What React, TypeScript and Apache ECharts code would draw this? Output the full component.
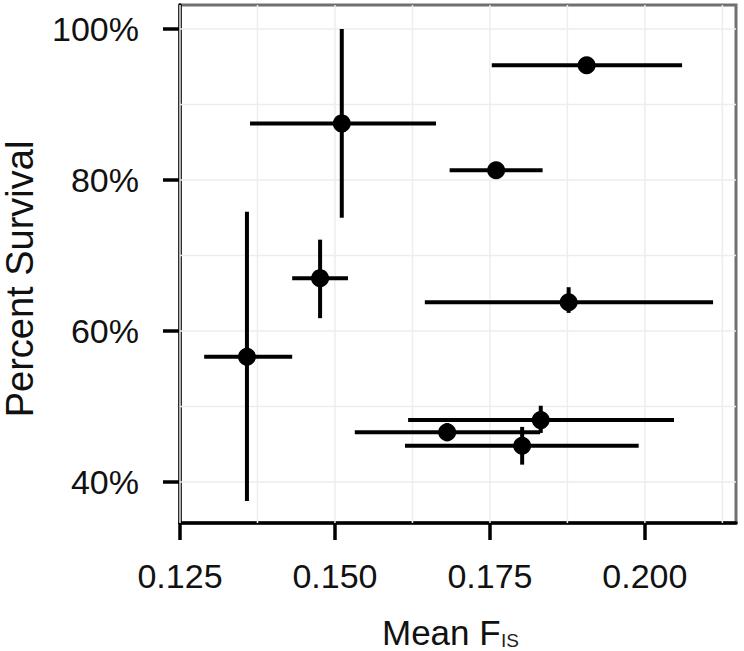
import React, { useEffect, useRef } from "react";
import * as echarts from "echarts";

// Mean F_IS (x) with horizontal error range
const meanFis = [0.1906, 0.1511, 0.176, 0.1476, 0.1877, 0.1358, 0.1832, 0.1681, 0.1802];
const fisLow = [0.1753, 0.1363, 0.1685, 0.1431, 0.1645, 0.1289, 0.1618, 0.1532, 0.1613];
const fisHigh = [0.206, 0.1663, 0.1835, 0.1521, 0.211, 0.1431, 0.2047, 0.1831, 0.199];
// Percent survival (y) with vertical error range
const survival = [95.2, 87.5, 81.3, 67.0, 63.8, 56.6, 48.2, 46.6, 44.8];
const survLow = [95.2, 75.0, 81.3, 61.7, 62.4, 37.5, 46.5, 45.4, 42.3];
const survHigh = [95.2, 100, 81.3, 72.1, 65.8, 75.8, 50.1, 47.8, 47.3];

// ticks and gridlines
const xTicks = [0.125, 0.15, 0.175, 0.2];
const yTicks = [40, 60, 80, 100];
const xGrid = [0.125, 0.1375, 0.15, 0.1625, 0.175, 0.1875, 0.2, 0.2125];
const yGrid = [40, 50, 60, 70, 80, 90, 100];

const X_MIN = 0.125;
const X_MAX = 0.2147;
const Y_MIN = 34.57;
const Y_MAX = 103.18;

export default function App() {
  const ref = useRef<HTMLDivElement>(null);
  useEffect(() => {
    if (!ref.current) return;
    const chart = echarts.init(ref.current, null, { renderer: "svg" });
    const fontFamily = "Liberation Sans, Arial, Helvetica, sans-serif";
    const errData = meanFis.map((x, i) => [x, survival[i], fisLow[i], fisHigh[i], survLow[i], survHigh[i]]);
    const lineStyle = { stroke: "#000", lineWidth: 4 };
    chart.setOption({
      animation: false,
      backgroundColor: "#fff",
      grid: {
        left: 180,
        right: 8,
        top: 5,
        bottom: 128,
        show: true,
        borderColor: "#707070",
        borderWidth: 3,
        backgroundColor: "#fff",
      },
      xAxis: {
        type: "value",
        min: X_MIN,
        max: X_MAX,
        axisLine: { show: true, onZero: false, lineStyle: { color: "#000", width: 3.5 } },
        axisTick: { show: true, customValues: xTicks, length: 17, lineStyle: { color: "#000", width: 3.5 } },
        axisLabel: {
          customValues: xTicks,
          formatter: (v: number) => v.toFixed(3),
          color: "#111",
          fontSize: 34,
          fontFamily,
          margin: 36,
        },
        splitLine: { show: false },
      },
      yAxis: {
        type: "value",
        min: Y_MIN,
        max: Y_MAX,
        axisLine: { show: true, onZero: false, lineStyle: { color: "#000", width: 3.5 } },
        axisTick: { show: true, customValues: yTicks, length: 17, lineStyle: { color: "#000", width: 3.5 } },
        axisLabel: {
          customValues: yTicks,
          formatter: "{value}%",
          color: "#111",
          fontSize: 34,
          fontFamily,
          margin: 41,
        },
        splitLine: { show: false },
      },
      graphic: [
        {
          type: "text",
          x: 382,
          y: 632,
          style: { text: "Mean F", font: `35px ${fontFamily}`, fill: "#111", verticalAlign: "middle", textAlign: "left" },
        },
        {
          type: "text",
          x: 501,
          y: 640,
          style: { text: "IS", font: `19px ${fontFamily}`, fill: "#222", verticalAlign: "middle", textAlign: "left" },
        },
        {
          type: "text",
          x: 20,
          y: 279,
          rotation: Math.PI / 2,
          style: { text: "Percent Survival", font: `38px ${fontFamily}`, fill: "#111", verticalAlign: "middle", textAlign: "center" },
        },
      ],
      series: [
        {
          type: "custom",
          name: "xgrid",
          silent: true,
          z: 1,
          data: xGrid.map((v) => [v, 50]),
          renderItem: (params: any, api: any) => {
            const cs = params.coordSys;
            const px = api.coord([api.value(0), api.value(1)])[0];
            return {
              type: "line",
              shape: { x1: px, y1: cs.y, x2: px, y2: cs.y + cs.height },
              style: { stroke: "#ededed", lineWidth: 1.5 },
            };
          },
        },
        {
          type: "custom",
          name: "ygrid",
          silent: true,
          z: 1,
          data: yGrid.map((v) => [0.15, v]),
          renderItem: (params: any, api: any) => {
            const cs = params.coordSys;
            const py = api.coord([api.value(0), api.value(1)])[1];
            return {
              type: "line",
              shape: { x1: cs.x, y1: py, x2: cs.x + cs.width, y2: py },
              style: { stroke: "#ededed", lineWidth: 1.5 },
            };
          },
        },
        {
          type: "custom",
          name: "errors",
          z: 3,
          data: errData,
          renderItem: (params: any, api: any) => {
            const y = api.value(1);
            const x = api.value(0);
            const h1 = api.coord([api.value(2), y]);
            const h2 = api.coord([api.value(3), y]);
            const v1 = api.coord([x, api.value(4)]);
            const v2 = api.coord([x, api.value(5)]);
            return {
              type: "group",
              children: [
                { type: "line", shape: { x1: h1[0], y1: h1[1], x2: h2[0], y2: h2[1] }, style: lineStyle },
                { type: "line", shape: { x1: v1[0], y1: v1[1], x2: v2[0], y2: v2[1] }, style: lineStyle },
              ],
            };
          },
        },
        {
          type: "scatter",
          name: "points",
          z: 4,
          symbol: "circle",
          symbolSize: 18,
          itemStyle: { color: "#000", opacity: 1 },
          data: meanFis.map((x, i) => [x, survival[i]]),
        },
      ],
    });
    return () => chart.dispose();
  }, []);
  return <div ref={ref} style={{ position: "fixed", left: 0, top: 0, width: 744, height: 651 }} />;
}
